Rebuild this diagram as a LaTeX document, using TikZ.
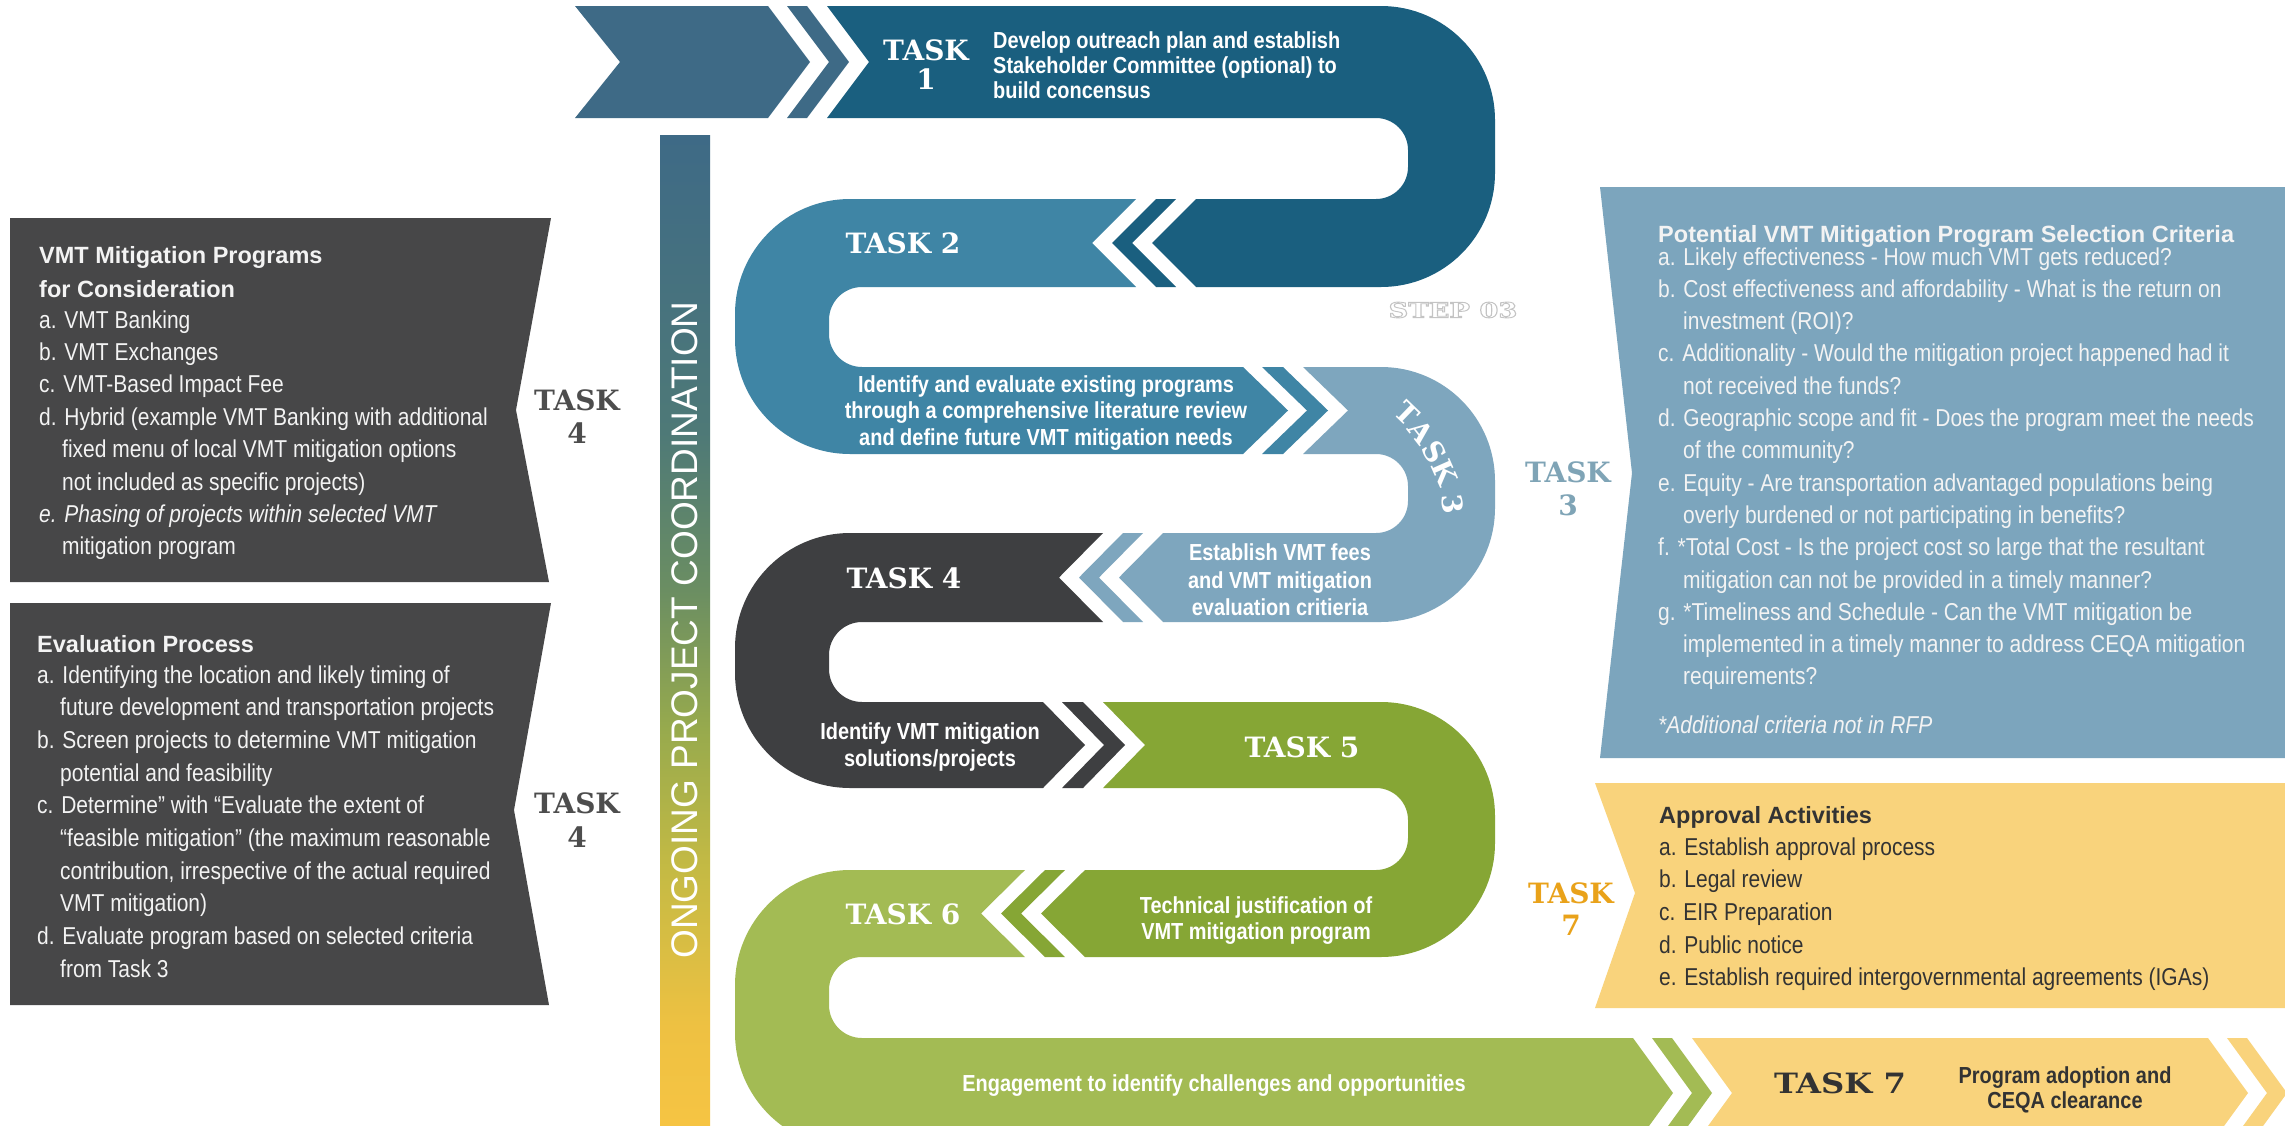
\documentclass[tikz,border=0pt]{standalone}
\usepackage{fontspec}
\setmainfont{Liberation Sans}
\newfontfamily\condf[FakeStretch=0.86]{Liberation Sans}
\newfontfamily\plainf{Liberation Sans}
\newfontfamily\slabf{DejaVu Serif}
\newcommand\fBody{\condf\fontsize{24.4}{28}\selectfont}
\newcommand\fBand{\condf\bfseries\fontsize{23.2}{26}\selectfont}
\newcommand\fTitle{\plainf\bfseries\fontsize{23.5}{28}\selectfont}
\newcommand\fSlab{\slabf\bfseries\fontsize{28}{32}\selectfont}
\newcommand\fOngo{\plainf\fontsize{37}{40}\selectfont}
\definecolor{cA}{HTML}{3E6A86}
\definecolor{cT1}{HTML}{1A5F7F}
\definecolor{cT2}{HTML}{3F85A5}
\definecolor{cT3}{HTML}{7EA6BE}
\definecolor{cT4}{HTML}{3E3F41}
\definecolor{cT5}{HTML}{86A635}
\definecolor{cT6}{HTML}{A3BB54}
\definecolor{cT7}{HTML}{F9D37C}
\definecolor{boxdark}{HTML}{474748}
\definecolor{critbox}{HTML}{7CA5BD}
\definecolor{boxtxt}{HTML}{F3F3F3}
\definecolor{darktxt}{HTML}{333333}
\definecolor{lblfour}{HTML}{4D4D4D}
\definecolor{lblthree}{HTML}{7FA4B6}
\definecolor{lblseven}{HTML}{E9A21A}
\definecolor{stepgray}{HTML}{C4C4C4}
\definecolor{ogA}{HTML}{F6C443}
\definecolor{ogB}{HTML}{EEC142}
\definecolor{ogC}{HTML}{C4BA44}
\definecolor{ogD}{HTML}{97AA4D}
\definecolor{ogE}{HTML}{6B8E62}
\definecolor{ogF}{HTML}{4E7977}
\definecolor{ogG}{HTML}{3E6A86}
\pgfdeclareverticalshading{ongoing}{100bp}{color(0bp)=(ogA); color(25bp)=(ogA); color(30bp)=(ogB); color(38bp)=(ogC); color(45bp)=(ogD); color(52bp)=(ogE); color(60bp)=(ogF); color(75bp)=(ogG); color(100bp)=(ogG)}
\tikzset{
  bl/.style={anchor=base west, inner sep=0pt},
  bc/.style={anchor=base, inner sep=0pt},
  boxbody/.style={bl, font=\fBody, text=boxtxt},
  boxtitle/.style={bl, font=\fTitle, text=boxtxt},
  bandtxt/.style={font=\fBand, text=white},
  slabw/.style={bc, font=\fSlab, text=white},
  curvel/.style={font=\fSlab, text=white, inner sep=0pt},
}
\begin{document}
\begin{tikzpicture}[x=1pt,y=-1pt]
\path[use as bounding box] (0,0) rectangle (2285,1125);
\clip (0,0) rectangle (2285,1125);
\fill[white] (0,0) rectangle (2285,1125);

% ---------- ongoing bar ----------
\path[shading=ongoing] (660,135) rectangle (710,1125);
\node[font=\fOngo, text=white, rotate=90, inner sep=0pt] (ongoing) at (685,630) {ONGOING PROJECT COORDINATION};

% ---------- start arrow ----------
\fill[cA] (575,6) -- (768,6) -- (810,62) -- (768,118) -- (575,118) -- (620,62) -- cycle;
\fill[cA] (787,6) -- (807,6) -- (849,62) -- (807,118) -- (787,118) -- (829,62) -- cycle;

% ---------- segment 1 ----------
\fill[cT1] (827,6) -- (1381,6) arc[start angle=-90,end angle=0,radius=114] -- (1495,173) arc[start angle=0,end angle=90,radius=114] -- (1196,287) -- (1152,243) -- (1196,199) -- (1376,199) arc[start angle=90,end angle=0,radius=32] -- (1408,150) arc[start angle=0,end angle=-90,radius=32] -- (827,118) -- (869,62) -- cycle;
\fill[cT1] (1156,199) -- (1176,199) -- (1132,243) -- (1176,287) -- (1156,287) -- (1112,243) -- cycle;

% ---------- segment 2 ----------
\fill[cT2] (1136,199) -- (850,199) arc[start angle=-90,end angle=-180,radius=115] -- (735,339) arc[start angle=180,end angle=90,radius=115] -- (1243,454) -- (1288,410.5) -- (1243,367) -- (862,367) arc[start angle=90,end angle=180,radius=33] -- (829,320) arc[start angle=180,end angle=270,radius=33] -- (1136,287) -- (1092,243) -- cycle;
\fill[cT2] (1262,367) -- (1283,367) -- (1328,410.5) -- (1283,454) -- (1262,454) -- (1307,410.5) -- cycle;

% ---------- segment 3 ----------
\fill[cT3] (1303,367) -- (1381,367) arc[start angle=-90,end angle=0,radius=114] -- (1495,508) arc[start angle=0,end angle=90,radius=114] -- (1163,622) -- (1119,577.5) -- (1163,533) -- (1376,533) arc[start angle=90,end angle=0,radius=32] -- (1408,486) arc[start angle=0,end angle=-90,radius=32] -- (1303,454) -- (1348,410.5) -- cycle;
\fill[cT3] (1123,533) -- (1143,533) -- (1099,577.5) -- (1143,622) -- (1123,622) -- (1079,577.5) -- cycle;

% ---------- segment 4 ----------
\fill[cT4] (1103,533) -- (850,533) arc[start angle=-90,end angle=-180,radius=115] -- (735,673) arc[start angle=180,end angle=90,radius=115] -- (1043,788) -- (1085,745) -- (1043,702) -- (862,702) arc[start angle=90,end angle=180,radius=33] -- (829,655) arc[start angle=180,end angle=270,radius=33] -- (1103,622) -- (1059,577.5) -- cycle;
\fill[cT4] (1062,702) -- (1083,702) -- (1125,745) -- (1083,788) -- (1062,788) -- (1104,745) -- cycle;

% ---------- segment 5 ----------
\fill[cT5] (1103,702) -- (1381,702) arc[start angle=-90,end angle=0,radius=114] -- (1495,843) arc[start angle=0,end angle=90,radius=114] -- (1085,957) -- (1041,913.5) -- (1085,870) -- (1376,870) arc[start angle=90,end angle=0,radius=32] -- (1408,820) arc[start angle=0,end angle=-90,radius=32] -- (1103,788) -- (1145,745) -- cycle;
\fill[cT5] (1045,870) -- (1065,870) -- (1021,913.5) -- (1065,957) -- (1045,957) -- (1001,913.5) -- cycle;

% ---------- segment 6 ----------
\fill[cT6] (1025,870) -- (850,870) arc[start angle=-90,end angle=-180,radius=115] -- (735,1033) arc[start angle=180,end angle=90,radius=115] -- (1633,1148) -- (1673,1093) -- (1633,1038) -- (862,1038) arc[start angle=90,end angle=180,radius=33] -- (829,990) arc[start angle=180,end angle=270,radius=33] -- (1025,957) -- (981,913.5) -- cycle;
\fill[cT6] (1652,1038) -- (1672,1038) -- (1712,1093) -- (1672,1148) -- (1652,1148) -- (1692,1093) -- cycle;

% ---------- segment 7 ----------
\fill[cT7] (1692,1038) -- (2208,1038) -- (2248,1093) -- (2208,1148) -- (1692,1148) -- (1732,1093) -- cycle;
\fill[cT7] (2227,1038) -- (2247,1038) -- (2287,1093) -- (2247,1148) -- (2227,1148) -- (2267,1093) -- cycle;

% ---------- side boxes ----------
\fill[boxdark] (10,218) -- (551,218) -- (516,410) -- (549,582) -- (10,582) -- cycle;
\fill[boxdark] (10,603) -- (551,603) -- (514,810) -- (549,1005) -- (10,1005) -- cycle;
\fill[critbox] (1600,187) -- (2285,187) -- (2285,758) -- (1600,758) -- (1632,473) -- cycle;
\fill[cT7] (1595,783) -- (2285,783) -- (2285,1008) -- (1595,1008) -- (1635,893) -- cycle;

% ---------- task labels in the path ----------
\node[slabw] (t1a) at (926,60) {TASK};
\node[slabw] (t1b) at (926,89) {1};
\node[slabw] (t2) at (903,253) {TASK 2};
\node[curvel, rotate=-44] (t3T) at (1407,413) {T};
\node[curvel, rotate=-52] (t3A) at (1421,432) {A};
\node[curvel, rotate=-59] (t3S) at (1434,452) {S};
\node[curvel, rotate=-66] (t3K) at (1445,472) {K};
\node[curvel, rotate=-84] (t3n) at (1453,504) {3};
\node[slabw] (t4) at (904,588) {TASK 4};
\node[slabw] (t5) at (1302,757) {TASK 5};
\node[slabw] (t6) at (903,924) {TASK 6};
\node[bc, font=\fSlab, text=darktxt, xscale=1.15, transform shape] (t7) at (1840,1093) {TASK 7};

% ---------- band texts ----------
\node[bl, bandtxt] (d1a) at (993,48) {Develop outreach plan and establish};
\node[bl, bandtxt] (d1b) at (993,73) {Stakeholder Committee (optional) to};
\node[bl, bandtxt] (d1c) at (993,98) {build concensus};
\node[bc, bandtxt] (d2a) at (1046,392) {Identify and evaluate existing programs};
\node[bc, bandtxt] (d2b) at (1046,418) {through a comprehensive literature review};
\node[bc, bandtxt] (d2c) at (1046,445) {and define future VMT mitigation needs};
\node[bc, bandtxt] (d3a) at (1280,560) {Establish VMT fees};
\node[bc, bandtxt] (d3b) at (1280,588) {and VMT mitigation};
\node[bc, bandtxt] (d3c) at (1280,615) {evaluation critieria};
\node[bc, bandtxt] (d4a) at (930,739) {Identify VMT mitigation};
\node[bc, bandtxt] (d4b) at (930,766) {solutions/projects};
\node[bc, bandtxt] (d5a) at (1256,913) {Technical justification of};
\node[bc, bandtxt] (d5b) at (1256,939) {VMT mitigation program};
\node[bc, bandtxt] (d6a) at (1214,1091) {Engagement to identify challenges and opportunities};
\node[bc, bandtxt, text=darktxt] (d7a) at (2065,1083) {Program adoption and};
\node[bc, bandtxt, text=darktxt] (d7b) at (2065,1108) {CEQA clearance};

\node[font=\slabf\bfseries\fontsize{21}{24}\selectfont, text=stepgray, xscale=1.3, transform shape, inner sep=0pt] (step) at (1453,310) {\special{pdf:literal direct 1 Tr 0.9 w 0.77 G}STEP 03\special{pdf:literal direct 0 Tr}};

% ---------- outside labels ----------
\node[bc, font=\fSlab, text=lblfour] (l4a) at (577,410) {TASK};
\node[bc, font=\fSlab, text=lblfour] (l4b) at (577,443) {4};
\node[bc, font=\fSlab, text=lblfour] (l4c) at (577,813) {TASK};
\node[bc, font=\fSlab, text=lblfour] (l4d) at (577,847) {4};
\node[bc, font=\fSlab, text=lblthree] (l3a) at (1568,482) {TASK};
\node[bc, font=\fSlab, text=lblthree] (l3b) at (1568,515) {3};
\node[bc, font=\fSlab, text=lblseven] (l7a) at (1571,903) {TASK};
\node[bc, font=\fSlab, text=lblseven] (l7b) at (1571,935) {7};

% ---------- box 1 ----------
\node[boxtitle] (b1t1) at (39,263) {VMT Mitigation Programs};
\node[boxtitle] (b1t2) at (39,297) {for Consideration};
\foreach \x/\y/\t [count=\i] in {39/328/{a. VMT Banking}, 39/360.4/{b. VMT Exchanges}, 39/392.8/{c. VMT-Based Impact Fee}, 39/425.2/{d. Hybrid (example VMT Banking with additional}, 62/457.6/{fixed menu of local VMT mitigation options}, 62/490/{not included as specific projects)}, 62/554.8/{mitigation program}}
  {\node[boxbody] (b1l\i) at (\x,\y) {\t};}
\node[boxbody, font=\fBody\itshape] (b1e) at (39,522.4) {e. Phasing of projects within selected VMT};

% ---------- box 2 ----------
\node[boxtitle] (b2t) at (37,652) {Evaluation Process};
\foreach \x/\y/\t [count=\i] in {37/683/{a. Identifying the location and likely timing of}, 60/715.7/{future development and transportation projects}, 37/748.4/{b. Screen projects to determine VMT mitigation}, 60/781/{potential and feasibility}, 37/813.8/{c. Determine” with “Evaluate the extent of}, 60/846.5/{“feasible mitigation” (the maximum reasonable}, 60/879.2/{contribution, irrespective of the actual required}, 60/911.9/{VMT mitigation)}, 37/944.6/{d. Evaluate program based on selected criteria}, 60/977.3/{from Task 3}}
  {\node[boxbody] (b2l\i) at (\x,\y) {\t};}

% ---------- criteria box ----------
\node[boxtitle] (crt) at (1658,242) {Potential VMT Mitigation Program Selection Criteria};
\foreach \x/\y/\t [count=\i] in {1658/265/{a. Likely effectiveness - How much VMT gets reduced?}, 1658/297.3/{b. Cost effectiveness and affordability - What is the return on}, 1683/329.6/{investment (ROI)?}, 1658/361.9/{c. Additionality - Would the mitigation project happened had it}, 1683/394.2/{not received the funds?}, 1658/426.5/{d. Geographic scope and fit - Does the program meet the needs}, 1683/458.8/{of the community?}, 1658/491.1/{e. Equity - Are transportation advantaged populations being}, 1683/523.4/{overly burdened or not participating in benefits?}, 1658/555.7/{f. *Total Cost - Is the project cost so large that the resultant}, 1683/588/{mitigation can not be provided in a timely manner?}, 1658/620.3/{g. *Timeliness and Schedule - Can the VMT mitigation be}, 1683/652.6/{implemented in a timely manner to address CEQA mitigation}, 1683/684.9/{requirements?}}
  {\node[boxbody] (crl\i) at (\x,\y) {\t};}
\node[boxbody, font=\fBody\itshape] (crn) at (1658,733) {*Additional criteria not in RFP};

% ---------- approval box ----------
\node[boxtitle, text=darktxt] (apt) at (1659,823) {Approval Activities};
\foreach \y/\t [count=\i] in {855/{a. Establish approval process}, 887.7/{b. Legal review}, 920.4/{c. EIR Preparation}, 953.1/{d. Public notice}, 985.8/{e. Establish required intergovernmental agreements (IGAs)}}
  {\node[boxbody, text=darktxt] (apl\i) at (1659,\y) {\t};}
\end{tikzpicture}
\end{document}
